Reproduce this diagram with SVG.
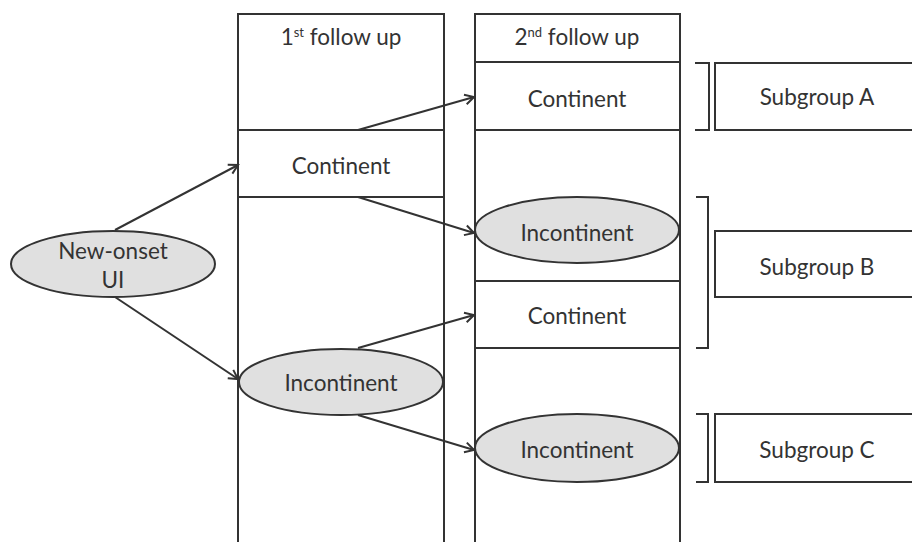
<svg xmlns="http://www.w3.org/2000/svg" width="912" height="542" viewBox="0 0 912 542">
<style>
.ln{fill:none;stroke:#333;stroke-width:2}
.box{fill:#fff;stroke:#333;stroke-width:2}
.ell{fill:#e0e0e0;stroke:#333;stroke-width:2}
.t{font-family:Lato,"Open Sans",sans-serif;font-size:22.5px;fill:#333;text-anchor:middle}
.sup{font-size:13px}
.c{stroke:#333;stroke-width:2;fill:none;marker-end:url(#ah)}
</style>
<defs>
<marker id="ah" markerWidth="14" markerHeight="14" refX="11" refY="7" orient="auto" markerUnits="userSpaceOnUse">
<path d="M2,2 L11,7 L2,12" fill="none" stroke="#333" stroke-width="2"/>
</marker>
</defs>
<rect width="912" height="542" fill="#fff"/>
<g id="col1">
<path class="ln" d="M238,545 V14 H444 V545"/>
<text class="t" x="341" y="45">1<tspan class="sup" dy="-8">st</tspan><tspan dy="8"> follow up</tspan></text>
</g>
<g id="col2">
<path class="ln" d="M475,545 V14 H680 V545"/>
<line class="ln" x1="475" y1="62" x2="680" y2="62"/>
<text class="t" x="577" y="45">2<tspan class="sup" dy="-8">nd</tspan><tspan dy="8"> follow up</tspan></text>
</g>
<g id="newonset">
<ellipse class="ell" cx="113" cy="264" rx="102" ry="33"/>
<text class="t" x="113" y="259">New-onset</text>
<text class="t" x="113" y="288">UI</text>
</g>
<g id="c1">
<rect class="box" x="238" y="130" width="206" height="67"/>
<text class="t" x="341" y="174">Continent</text>
</g>
<g id="i1">
<ellipse class="ell" cx="341" cy="382" rx="102" ry="33"/>
<text class="t" x="341" y="391">Incontinent</text>
</g>
<g id="c2a">
<rect class="box" x="475" y="62" width="205" height="68"/>
<text class="t" x="577" y="107">Continent</text>
</g>
<g id="i2a">
<ellipse class="ell" cx="577" cy="230" rx="102" ry="33"/>
<text class="t" x="577" y="241">Incontinent</text>
</g>
<g id="c2b">
<rect class="box" x="475" y="281" width="205" height="67"/>
<text class="t" x="577" y="324">Continent</text>
</g>
<g id="i2b">
<ellipse class="ell" cx="577" cy="448" rx="102" ry="34"/>
<text class="t" x="577" y="458">Incontinent</text>
</g>
<g id="sgA">
<path class="ln" d="M695,63 H709 V130 H695"/>
<rect class="box" x="715" y="63" width="220" height="67"/>
<text class="t" x="817" y="105">Subgroup A</text>
</g>
<g id="sgB">
<path class="ln" d="M696,197 H708 V348 H696"/>
<rect class="box" x="715" y="231" width="220" height="66"/>
<text class="t" x="817" y="275">Subgroup B</text>
</g>
<g id="sgC">
<path class="ln" d="M696,414 H708 V482 H696"/>
<rect class="box" x="715" y="414" width="220" height="68"/>
<text class="t" x="817" y="458">Subgroup C</text>
</g>
<g id="connectors">
<line class="c" x1="115" y1="230" x2="238" y2="165"/>
<line class="c" x1="115" y1="297" x2="238" y2="379"/>
<line class="c" x1="358" y1="130" x2="474" y2="97"/>
<line class="c" x1="358" y1="197" x2="474" y2="233"/>
<line class="c" x1="358" y1="348" x2="474" y2="315"/>
<line class="c" x1="358" y1="415" x2="474" y2="450"/>
</g>
</svg>
